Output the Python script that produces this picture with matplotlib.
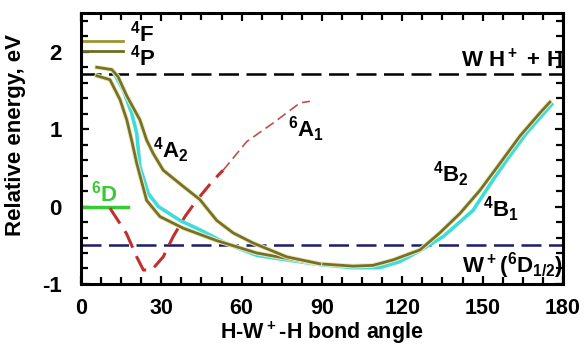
import numpy as np
import matplotlib
matplotlib.use('Agg')
import matplotlib.pyplot as plt
import matplotlib.patheffects as pe
from matplotlib.ticker import MultipleLocator

plt.rcParams['font.family'] = ['Liberation Sans', 'DejaVu Sans']
plt.rcParams['font.weight'] = 'bold'
plt.rcParams['axes.labelweight'] = 'bold'
plt.rcParams['axes.unicode_minus'] = False
plt.rcParams['mathtext.default'] = 'bf'
plt.rcParams['mathtext.fontset'] = 'custom'
plt.rcParams['mathtext.bf'] = 'Liberation Sans:bold'
plt.rcParams['mathtext.rm'] = 'Liberation Sans:bold'

# quartet state, upper olive branch (4A2), merges into the well
a2_ang = [5.9, 11.5, 13.8, 17.1, 22.0, 24.5, 26.9, 30.7, 38.2, 44.4, 50.7, 56.8, 64.2, 76.8, 89.2]
a2_val = [1.80, 1.77, 1.68, 1.43, 1.12, 0.86, 0.69, 0.47, 0.26, 0.09, -0.18, -0.34, -0.47, -0.65, -0.74]

# lower olive branch, continues into 4B2
b2_ang = [5.9, 10.8, 14.6, 17.1, 18.9, 20.8, 24.5, 29.5, 38.2, 50.7, 65.6, 76.8, 89.2, 101.6,
          109.0, 116.5, 126.6, 134.0, 141.5, 149.0, 156.5, 163.9, 171.4, 175.1]
b2_val = [1.69, 1.64, 1.38, 1.12, 0.86, 0.56, 0.08, -0.13, -0.28, -0.44, -0.60, -0.67, -0.74, -0.77,
          -0.76, -0.69, -0.56, -0.34, -0.09, 0.21, 0.56, 0.91, 1.21, 1.35]

# cyan branch, continues into 4B1
b1_ang = [11.9, 15.7, 18.9, 20.8, 22.0, 25.1, 28.9, 37.0, 44.4, 54.4, 65.6, 76.8, 89.2, 101.6,
          111.6, 119.2, 126.6, 135.2, 146.4, 153.8, 159.0, 166.4, 175.8]
b1_val = [1.75, 1.51, 1.21, 0.95, 0.52, 0.17, 0.00, -0.18, -0.30, -0.48, -0.63, -0.69, -0.75, -0.79,
          -0.79, -0.71, -0.57, -0.39, -0.05, 0.34, 0.60, 0.95, 1.32]

# sextet 6A1 (red dashed)
a1_ang = [10.8, 17.0, 20.8, 23.3, 26.4, 30.7, 34.4, 38.8, 43.2, 49.4, 53.1, 61.9, 71.8, 81.8, 85.5]
a1_val = [-0.02, -0.35, -0.65, -0.82, -0.82, -0.65, -0.39, -0.13, 0.08, 0.34, 0.47, 0.84, 1.08, 1.34, 1.36]

# asymptotes and atomic levels
e_wh_h = 1.71
e_w6d = -0.50
level_4f = 2.14
level_4p = 2.01
level_6d = 0.0

olive = '#76702a'
halo = [pe.Stroke(linewidth=3.4, foreground='#ecebb8'), pe.Normal()]

fig = plt.figure(figsize=(5.84, 3.45), dpi=100)
ax = fig.add_axes([0.1387, 0.177, 0.8253, 0.785])

ax.axhline(e_wh_h, color='black', lw=1.8, dashes=(8, 3))
ax.axhline(e_w6d, color='#1c1c6a', lw=1.8, dashes=(8, 3))

ax.plot([0, 15.5], [level_4f, level_4f], color='#9c9630', lw=2)
ax.plot([0, 15.5], [level_4p, level_4p], color='#6e6a22', lw=2)
ax.plot([0, 17.5], [level_6d, level_6d], color='#33cc33', lw=2.5)

ax.plot(a1_ang[:11], a1_val[:11], color='#c0302c', lw=2.2, dashes=(6, 3))
ax.plot(a1_ang[10:], a1_val[10:], color='#c0504c', lw=1.2, dashes=(6, 3))

ax.plot(b1_ang, b1_val, color='#40dcdc', lw=2.6)
ax.plot(b2_ang, b2_val, color=olive, lw=2, path_effects=halo)
ax.plot(a2_ang, a2_val, color=olive, lw=2, path_effects=halo)

ax.set_xlim(0, 180)
ax.set_ylim(-1, 2.5)
ax.xaxis.set_major_locator(MultipleLocator(30))
ax.xaxis.set_minor_locator(MultipleLocator(7.5))
ax.yaxis.set_major_locator(MultipleLocator(1))
ax.yaxis.set_minor_locator(MultipleLocator(0.2))
ax.tick_params(which='both', direction='in', top=True, right=True, width=1.6)
ax.tick_params(which='major', length=6)
ax.tick_params(which='minor', length=5)
ax.tick_params(axis='x', which='major', labelsize=15.5, pad=10)
ax.tick_params(axis='y', which='major', labelsize=16, pad=14)
for s in ax.spines.values():
    s.set_linewidth(2.2)

ax.set_xlabel(r'H-W$^+$-H bond angle', fontsize=15.5)
ax.xaxis.set_label_coords(0.5, -0.133)
ax.set_ylabel('Relative energy, eV', fontsize=16)
ax.yaxis.set_label_coords(-0.115, 0.55)

fs = 16
ax.text(18.3, 2.13, r'$^4$F', fontsize=fs)
ax.text(18.3, 1.82, r'$^4$P', fontsize=fs)
ax.text(180, 1.80, r'W H$^+$ + H', fontsize=fs, ha='right')
ax.text(26.9, 0.63, r'$^4$A$_2$', fontsize=fs)
ax.text(77.3, 0.90, r'$^6$A$_1$', fontsize=fs)
ax.text(3.6, 0.06, r'$^6$D', fontsize=fs, color='#33cc33')
ax.text(131.4, 0.32, r'$^4$B$_2$', fontsize=fs)
ax.text(150.0, -0.13, r'$^4$B$_1$', fontsize=fs)
ax.text(180, -0.85, r'W$^+$($^6$D$_{1/2}$)', fontsize=fs, ha='right')

fig.savefig('out.png', dpi=100)
